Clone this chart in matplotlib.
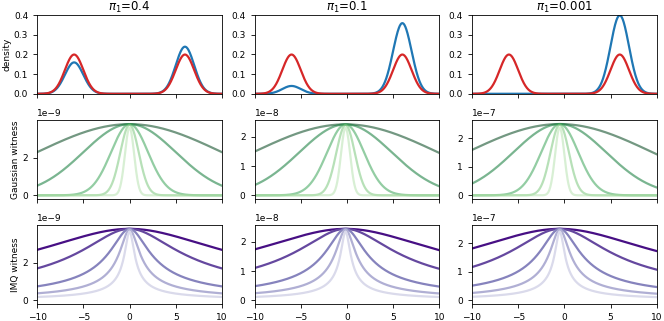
import numpy as np
import matplotlib.pyplot as plt

# mixture weights of the left mode, one column each
pi1_values = [0.4, 0.1, 0.001]
mode_locs = [-6.0, 6.0]
mode_sd = 1.0
# kernel bandwidths, widest (darkest) first
bandwidths = [10, 5, 2, 1, 0.5]
# witness peak heights / peak location
gauss_peak = [3.78e-9, 2.43e-8, 2.49e-7]
imq_peak = [3.80e-9, 2.45e-8, 2.50e-7]
peak_shift = [0.0, -0.15, -0.5]
gauss_rel = [1.0, 1.0, 1.0, 0.99, 0.95]
imq_rel = [1.0, 1.0, 1.0, 0.99, 0.96]

plt.rcParams['font.size'] = 6.5
plt.rcParams['xtick.major.size'] = 3
plt.rcParams['ytick.major.size'] = 3
plt.rcParams['xtick.major.width'] = 0.6
plt.rcParams['ytick.major.width'] = 0.6
plt.rcParams['axes.linewidth'] = 0.6


def normpdf(x, m, s):
    return np.exp(-0.5 * ((x - m) / s) ** 2) / (s * np.sqrt(2 * np.pi))


x = np.linspace(-10, 10, 600)
greens = plt.cm.Greens(np.linspace(1.0, 0.3, len(bandwidths)))
purples = plt.cm.Purples(np.linspace(0.95, 0.25, len(bandwidths)))

fig, axes = plt.subplots(3, 3, figsize=(6.64, 3.21), dpi=100, sharex=True)
for j in range(3):
    axes[2, j].sharey(axes[1, j])

for j, p in enumerate(pi1_values):
    ax = axes[0, j]
    q = 0.5 * normpdf(x, mode_locs[0], mode_sd) + 0.5 * normpdf(x, mode_locs[1], mode_sd)
    pp = p * normpdf(x, mode_locs[0], mode_sd) + (1 - p) * normpdf(x, mode_locs[1], mode_sd)
    ax.plot(x, pp, color='tab:blue', lw=1.6)
    ax.plot(x, q, color='tab:red', lw=1.6)
    ax.set_ylim(0, 0.4)
    ax.set_xlim(-10, 10)
    ax.set_title(r'$\pi_1$=' + str(p), fontsize=8.5, pad=2)

    ax = axes[1, j]
    for k, bw in enumerate(bandwidths):
        y = gauss_peak[j] * gauss_rel[k] * np.exp(-0.5 * ((x - peak_shift[j]) / bw) ** 2)
        ax.plot(x, y, color=greens[k], alpha=0.55, lw=1.6)

    ax = axes[2, j]
    for k, bw in enumerate(bandwidths):
        y = imq_peak[j] * imq_rel[k] * bw / np.sqrt(bw ** 2 + (x - peak_shift[j]) ** 2)
        ax.plot(x, y, color=purples[k], lw=1.6)

axes[0, 0].set_ylabel('density', labelpad=1.5)
axes[1, 0].set_ylabel('Gaussian witness', labelpad=1.5)
axes[2, 0].set_ylabel('IMQ witness', labelpad=1.5)
for ax in axes[2]:
    ax.set_xticks([-10, -5, 0, 5, 10])
    ax.set_xlim(-10, 10)

plt.subplots_adjust(left=0.056, right=0.989, top=0.953, bottom=0.053,
                    wspace=0.177, hspace=0.335)
plt.savefig('out.png', dpi=100)
